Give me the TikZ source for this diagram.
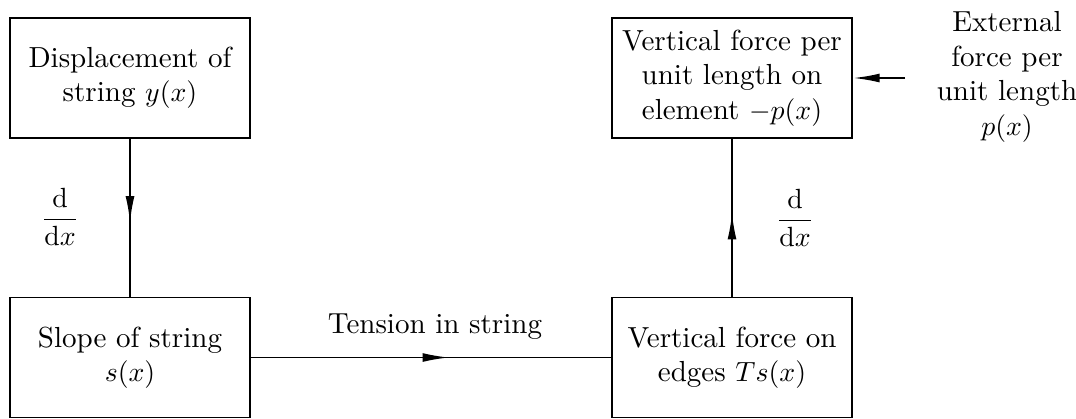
\documentclass[tikz,border=0pt]{standalone}
\usetikzlibrary{arrows.meta,decorations.markings}
\begin{document}
\begin{tikzpicture}[x=0.36pt,y=-0.36pt,
  font=\fontsize{10.45}{12.4}\selectfont,
  box/.style={draw, line width=0.65pt, minimum width=86.6pt, minimum height=43.2pt, align=center, inner sep=0pt},
  conn/.style={line width=0.65pt},
  midarrow/.style={conn, postaction={decorate}, decoration={markings, mark=at position #1 with {\arrow{Latex[length=9.5pt,width=3.2pt]}}}},
  lbl/.style={align=center, inner sep=0pt}]
\useasboundingbox (0,0) rectangle (1076,418);
\node[box] (A) at (130,78) {Displacement of\\string $y(x)$};
\node[box] (B) at (130,357.5) {Slope of string\\$s(x)$};
\node[box] (C) at (732,357.5) {Vertical force on\\edges $Ts(x)$};
\node[box] (D) at (732,78) {Vertical force per\\unit length on\\element $-p(x)$};
\node[lbl] (E) at (1007,77) {External\\force per\\unit length\\$p(x)$};
\coordinate (Ein) at (905,78);
\draw[midarrow=0.53] (A.south) -- (B.north);
\draw[midarrow=0.55] (B.east) -- (C.west);
\draw[midarrow=0.53] (C.north) -- (D.south);
\draw[conn,-{Latex[length=9.5pt,width=3.2pt]}] (Ein) -- (D.east);
\node[lbl] (L1) at (60,217) {$\displaystyle\frac{\mathrm{d}}{\mathrm{d}x}$};
\node[lbl] (L2) at (795,218) {$\displaystyle\frac{\mathrm{d}}{\mathrm{d}x}$};
\node[lbl] (L3) at (435,327) {Tension in string};
\end{tikzpicture}
\end{document}
